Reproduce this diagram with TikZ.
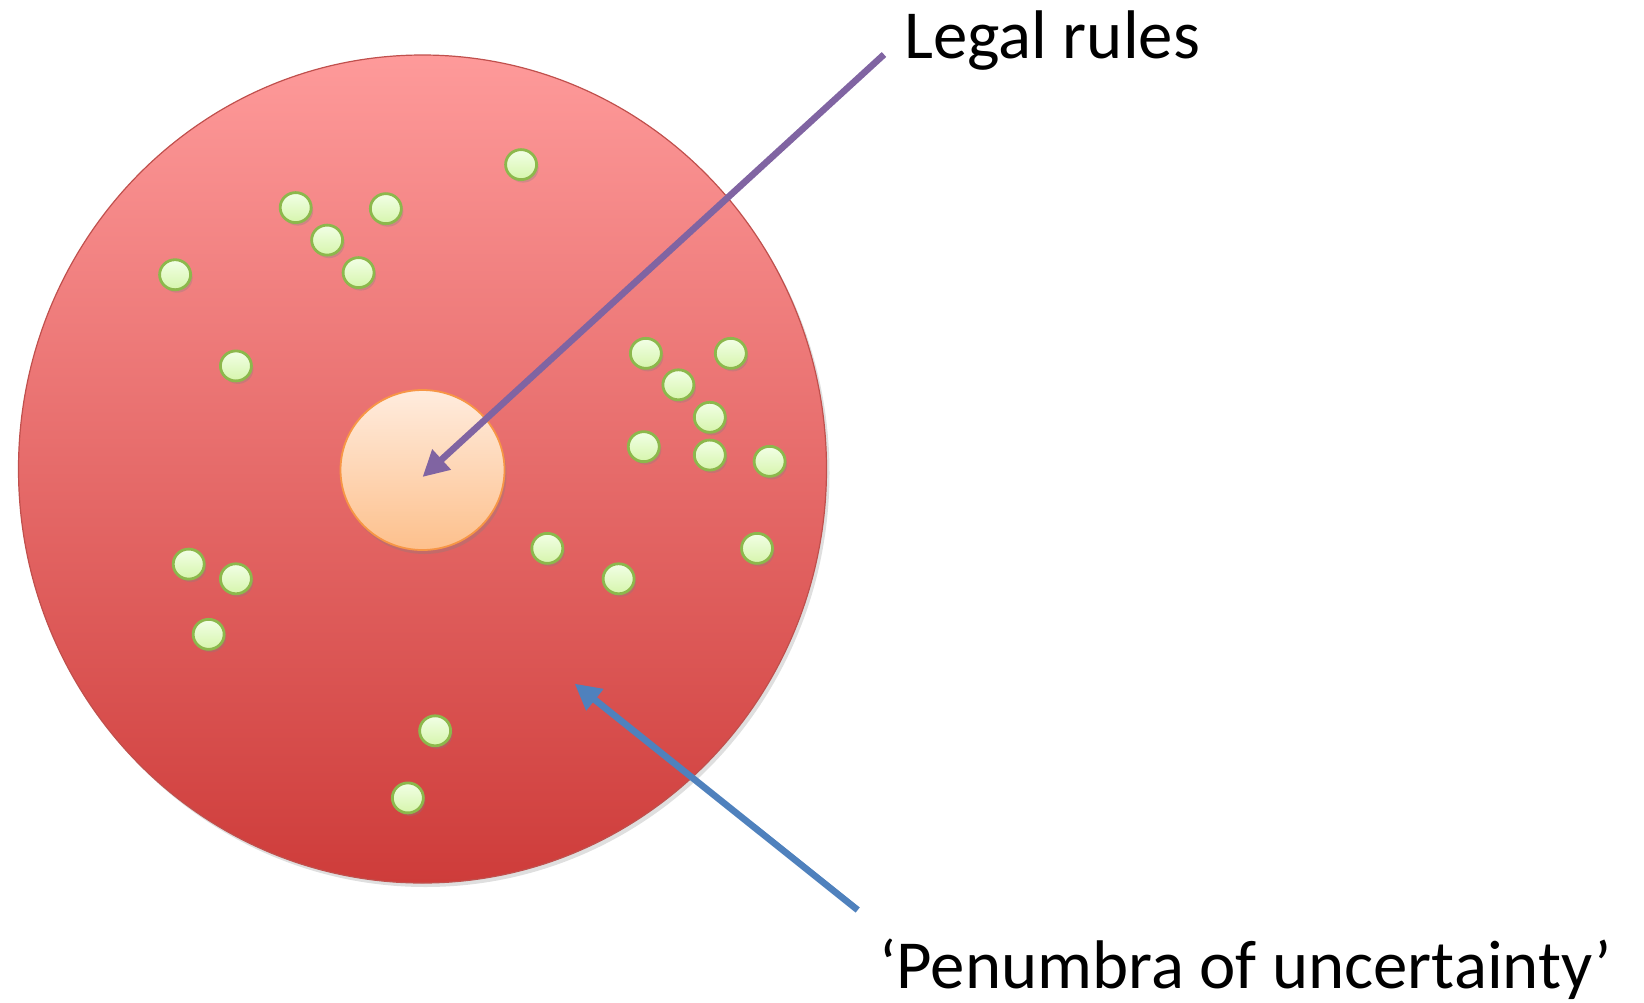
\documentclass[tikz,border=0pt]{standalone}
\usepackage{fontspec}
\setmainfont{Carlito}
\usetikzlibrary{shapes.geometric,arrows.meta,shadows}
\definecolor{bigtop}{RGB}{254,154,154}
\definecolor{bigbot}{RGB}{206,60,58}
\definecolor{bigedge}{RGB}{192,80,77}
\definecolor{intop}{RGB}{255,236,222}
\definecolor{inbot}{RGB}{253,192,140}
\definecolor{inedge}{RGB}{247,150,70}
\definecolor{dottop}{RGB}{242,255,230}
\definecolor{dotbot}{RGB}{214,245,172}
\definecolor{dotedge}{RGB}{140,184,76}
\definecolor{purplearrow}{RGB}{128,100,162}
\definecolor{bluearrow}{RGB}{79,129,189}
\tikzset{
  bigdisc/.style={ellipse, draw=bigedge, line width=0.6pt, top color=bigtop, bottom color=bigbot,
    minimum width=404pt, minimum height=414pt, inner sep=0pt,
    drop shadow={opacity=0.25, shadow xshift=1.5pt, shadow yshift=-2pt}},
  coredisc/.style={ellipse, draw=inedge, line width=0.9pt, top color=intop, bottom color=inbot,
    minimum width=82pt, minimum height=80pt, inner sep=0pt,
    drop shadow={opacity=0.3, shadow xshift=1pt, shadow yshift=-2pt}},
  dot/.style={ellipse, draw=dotedge, line width=1.4pt, top color=dottop, bottom color=dotbot,
    minimum width=15.5pt, minimum height=15pt, inner sep=0pt,
    drop shadow={opacity=0.3, shadow xshift=1pt, shadow yshift=-1.5pt}},
  pointer/.style={line width=3.3pt, -{Triangle[length=13pt, width=13pt]}},
  label/.style={anchor=base west, inner sep=0pt, font=\fontsize{34.4}{40}\selectfont}
}
\begin{document}
\begin{tikzpicture}[x=0.5pt,y=-0.5pt]
\useasboundingbox (0,0) rectangle (1644,1002);
\node[bigdisc] (big) at (422.5,469) {};
\node[coredisc] (core) at (422.5,470) {};
\foreach \px/\py [count=\i] in {497/157, 282/198, 368/199, 312/229, 342/260, 167/262, 225/349,
  616/337, 697/337, 647/367, 677/398, 614/426, 677/434, 734/440, 522/523, 590/552, 722/523,
  180/538, 225/552, 199/605, 415/697, 389/761}
  \node[dot] (d\i) at ({\px*1.0485},{\py*1.0485}) {};
\node[label] (legal) at (904,58) {Legal rules};
\node[label] (penumbra) at (879,988) {‘Penumbra of uncertainty’};
\coordinate (legalstart) at (884,54.5);
\coordinate (legaltip) at (422.5,477);
\coordinate (penstart) at (857.7,910);
\coordinate (pentip) at (574.6,683.6);
\draw[pointer, purplearrow] (legalstart) -- (legaltip);
\draw[pointer, bluearrow] (penstart) -- (pentip);
\end{tikzpicture}
\end{document}
